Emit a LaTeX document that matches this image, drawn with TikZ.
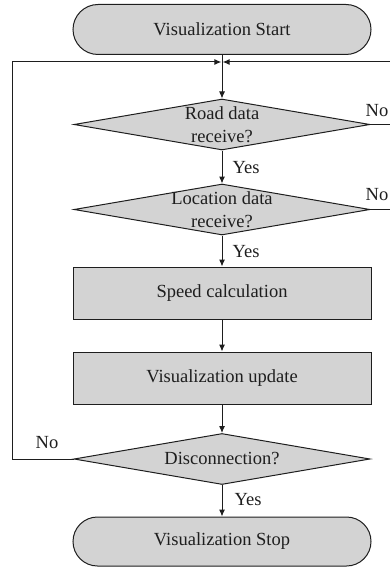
\documentclass[tikz,border=0pt]{standalone}
\usepackage{fontspec}
\setmainfont{Liberation Serif}
\usetikzlibrary{shapes.geometric,shapes.misc,arrows.meta}
\definecolor{boxfill}{RGB}{211,211,211}
\definecolor{ink}{RGB}{30,30,30}
\begin{document}
\begin{tikzpicture}[x=1pt,y=-1pt,
  every node/.style={font=\fontsize{18.5}{23}\selectfont, text=ink},
  terminal/.style={rounded rectangle, draw=ink, fill=boxfill, line width=1pt,
    minimum width=298pt, minimum height=50pt, inner sep=0pt},
  decision/.style={diamond, draw=ink, fill=boxfill, line width=1pt,
    minimum width=296pt, minimum height=51pt, inner sep=0pt},
  process/.style={rectangle, draw=ink, fill=boxfill, line width=1pt,
    minimum width=298pt, minimum height=52pt, inner sep=0pt},
  flow/.style={draw=ink, line width=1pt, -{Latex[length=7pt,width=6pt]}},
  rail/.style={draw=ink, line width=1pt},
  tag/.style={inner sep=0pt}
]
\useasboundingbox (0,0) rectangle (390,567);

% main column
\node[terminal] (start) at (222,29.5) {Visualization Start};
\node[decision, label={[align=center]center:Road data\\receive?}] (road) at (222,124.5) {};
\node[decision, label={[align=center]center:Location data\\receive?}] (loc) at (222,209.5) {};
\node[process] (speed) at (222,293) {Speed calculation};
\node[process] (update) at (222,378) {Visualization update};
\node[decision, label={center:Disconnection?}] (disc) at (222,459) {};
\node[terminal, minimum height=49pt] (stop) at (222,541.5) {Visualization Stop};

% loop-back rails
\coordinate (join) at (222,62);
\coordinate (leftrail) at (12.5,62);
\coordinate (rightrail) at (394,62);

% forward arrows
\draw[flow] (start.south) -- (road.north);
\draw[flow] (road.south) -- (loc.north);
\draw[flow] (loc.south) -- (speed.north);
\draw[flow] (speed.south) -- (update.north);
\draw[flow] (update.south) -- (disc.north);
\draw[flow] (disc.south) -- (stop.north);

% "No" branches back to the top
\draw[flow, shorten >=0.6pt] (disc.west) -| (leftrail) -- (join);
\draw[flow, shorten >=0.6pt] (road.east) -| (rightrail) -- (join);
\draw[rail] (loc.east) -| (rightrail);

% branch labels
\node[tag] (yes1) at (246,168) {Yes};
\node[tag] (yes2) at (246,252) {Yes};
\node[tag] (yes3) at (248,500) {Yes};
\node[tag] (no1) at (377,111) {No};
\node[tag] (no2) at (377,195) {No};
\node[tag] (no3) at (47,443) {No};
\end{tikzpicture}
\end{document}
